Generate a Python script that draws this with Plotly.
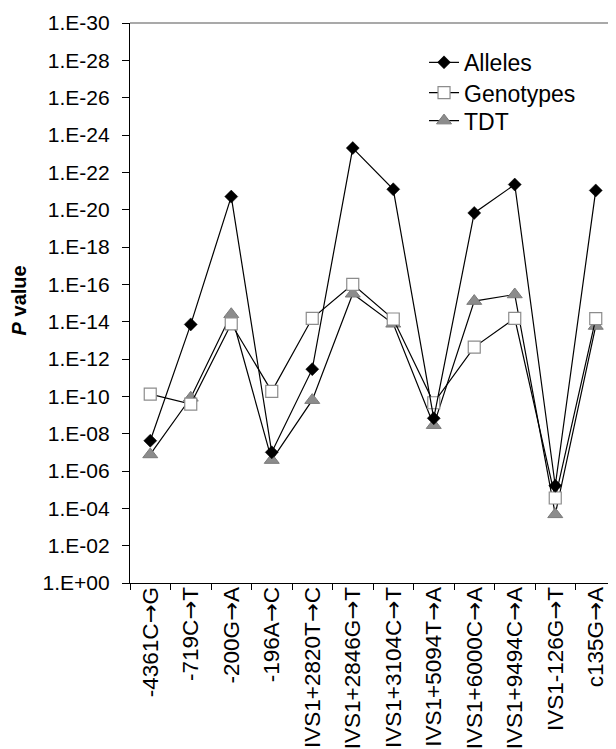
import plotly.graph_objects as go

categories = ["-4361C→G", "-719C→T", "-200G→A", "-196A→C", "IVS1+2820T→C",
              "IVS1+2846G→T", "IVS1+3104C→T", "IVS1+5094T→A", "IVS1+6000C→A",
              "IVS1+9494C→A", "IVS1-126G→T", "c135G→A"]

alleles_p = [2.4e-8, 1.4e-14, 2.0e-21, 1.0e-7, 3.5e-12, 5.0e-24,
             8.1e-22, 1.5e-9, 1.5e-20, 4.5e-22, 6.2e-6, 9.3e-22]
genotypes_p = [7.6e-11, 2.6e-10, 1.3e-14, 5.4e-11, 6.6e-15, 1.0e-16,
               7.2e-15, 2.2e-10, 2.3e-13, 6.6e-15, 2.8e-5, 6.9e-15]
tdt_p = [1.3e-7, 1.2e-10, 4.0e-15, 2.6e-7, 1.6e-10, 3.2e-16,
         1.3e-14, 3.5e-9, 7.9e-16, 3.5e-16, 2.1e-4, 1.7e-14]

tick_exponents = list(range(0, 31, 2))
tick_vals = [10.0 ** (-e) for e in tick_exponents]
tick_text = ["1.E+00" if e == 0 else "1.E-%02d" % e for e in tick_exponents]

FONT = "Liberation Sans, Arial, sans-serif"
ARROW = '<span style="font-family:DejaVu Sans">→</span>'
x_ticktext = [c.replace("→", ARROW) for c in categories]

legend_common = dict(x=0.605, xanchor="left", yanchor="top",
                     font=dict(size=23, color="black", family=FONT),
                     bgcolor="rgba(0,0,0,0)", itemwidth=30)

fig = go.Figure()
fig.add_trace(go.Scatter(
    x=categories, y=tdt_p, name="TDT", mode="lines+markers", legend="legend3",
    line=dict(color="black", width=1.2),
    marker=dict(symbol="triangle-up", size=13, color="#8c8c8c",
                line=dict(color="#7a7a7a", width=1))))
fig.add_trace(go.Scatter(
    x=categories, y=genotypes_p, name="Genotypes", mode="lines+markers",
    legend="legend2",
    line=dict(color="black", width=1.2),
    marker=dict(symbol="square", size=12, color="white",
                line=dict(color="#8c8c8c", width=1.2))))
fig.add_trace(go.Scatter(
    x=categories, y=alleles_p, name="Alleles", mode="lines+markers",
    legend="legend",
    line=dict(color="black", width=1.2),
    marker=dict(symbol="diamond", size=10, color="black",
                line=dict(color="black", width=0.5))))

fig.update_layout(
    width=608, height=741,
    margin=dict(l=122, r=0, t=15, b=166, autoexpand=False),
    paper_bgcolor="white", plot_bgcolor="white",
    font=dict(family=FONT, size=20, color="black"),
    showlegend=True,
    legend=dict(y=0.968, **legend_common),
    legend2=dict(y=0.914, **legend_common),
    legend3=dict(y=0.864, **legend_common),
    xaxis=dict(type="category", range=[-0.5, 11.5], showline=True,
               linecolor="black", linewidth=1.2, ticks="outside",
               tickson="boundaries", ticklen=6, tickcolor="black",
               tickwidth=1, tickangle=-90, showgrid=False, zeroline=False,
               automargin=False, tickvals=categories, ticktext=x_ticktext,
               ticklabelstandoff=-6,
               tickfont=dict(size=22.5, family=FONT)),
    yaxis=dict(type="log", range=[0, -30], showline=True, linecolor="black",
               linewidth=1.2, ticks="outside", ticklen=7, tickcolor="black",
               tickwidth=1, tickvals=tick_vals, ticktext=tick_text,
               showgrid=False, zeroline=False, ticklabelstandoff=8,
               automargin=False, tickfont=dict(size=21, family=FONT)),
)

fig.add_shape(type="line", xref="paper", yref="paper", x0=0, x1=1, y0=1, y1=1,
              line=dict(color="#555555", width=1.2))

fig.add_annotation(text="<b><i>P</i> value</b>", xref="paper", yref="paper",
                   x=-0.228, y=0.505, xanchor="center", yanchor="middle",
                   textangle=-90, showarrow=False,
                   font=dict(size=20, family=FONT, color="black"))

fig.write_html("out.html")
